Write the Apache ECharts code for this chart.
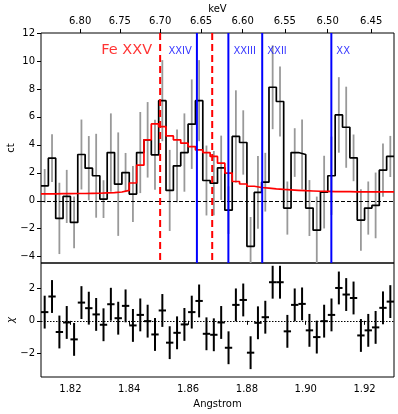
<!DOCTYPE html>
<html>
<head>
<meta charset="utf-8">
<script src="https://cdn.jsdelivr.net/npm/echarts@6.0.0/dist/echarts.min.js"></script>
<style>
  html, body { margin: 0; padding: 0; background: #fff; }
  #main { width: 398px; height: 414px; }
</style>
</head>
<body>
<div id="main"></div>
<script>
// bin centres (Angstrom), 0.0025 wide
var wave = [1.81125, 1.81375, 1.81625, 1.81875, 1.82125, 1.82375, 1.82625, 1.82875,
            1.83125, 1.83375, 1.83625, 1.83875, 1.84125, 1.84375, 1.84625, 1.84875,
            1.85125, 1.85375, 1.85625, 1.85875, 1.86125, 1.86375, 1.86625, 1.86875,
            1.87125, 1.87375, 1.87625, 1.87875, 1.88125, 1.88375, 1.88625, 1.88875,
            1.89125, 1.89375, 1.89625, 1.89875, 1.90125, 1.90375, 1.90625, 1.90875,
            1.91125, 1.91375, 1.91625, 1.91875, 1.92125, 1.92375, 1.92625, 1.92875];
var counts = [1.07, 3.05, -1.26, 0.31, -1.55, 3.31, 2.33, 1.79, 0.12, 3.45, 1.19, 2.02,
              0.48, 3.45, 4.36, 3.29, 7.16, 0.74, 2.5, 3.45, 5.48, 7.16, 1.45, 1.26,
              2.36, -0.67, 4.6, 4.17, -3.26, 0.6, 1.33, 8.12, 7.1, -0.52, 3.45, 3.31,
              -0.52, -2.1, 0.62, 1.79, 6.14, 5.26, 3.07, -1.38, -0.52, -0.33, 2.19, 3.17];
var cntErr = [1.2, 1.7, 2.55, 1.9, 1.85, 2.5, 2.3, 3.0, 1.35, 2.8, 3.7, 1.4,
              2.0, 2.9, 2.7, 2.5, 2.9, 2.9, 2.6, 2.8, 3.2, 2.9, 2.5, 2.3,
              2.3, 1.7, 3.3, 2.3, 2.1, 2.6, 2.1, 3.0, 2.5, 1.9, 1.74, 2.5,
              2.0, 2.4, 2.6, 2.8, 2.7, 2.9, 1.67, 2.2, 1.9, 2.35, 1.9, 1.47];
var model = [0.50, 0.50, 0.51, 0.51, 0.52, 0.52, 0.53, 0.54, 0.56, 0.58, 0.63, 0.74,
             1.27, 2.55, 4.36, 5.5, 5.3, 4.64, 4.36, 4.12, 3.88, 3.64, 3.45, 3.17,
             2.69, 1.98, 1.38, 1.2, 1.04, 0.95, 0.9, 0.85, 0.81, 0.78, 0.75, 0.72,
             0.70, 0.68, 0.67, 0.66, 0.65, 0.65, 0.64, 0.64, 0.64, 0.64, 0.64, 0.64];
var chi = [0.53, 1.48, -0.68, -0.1, -1.13, 1.11, 0.77, 0.39, -0.24, 1.01, 0.16, 0.91,
           -0.28, 0.36, -0.02, -0.83, 0.63, -1.33, -0.73, -0.22, 0.53, 1.21, -0.79, -0.85,
           -0.1, -1.64, 0.97, 1.27, -1.94, -0.12, 0.22, 2.35, 2.35, -0.64, 0.97, 1.03,
           -0.58, -0.99, -0.02, 0.36, 2.0, 1.6, 1.39, -0.89, -0.58, -0.4, 0.79, 1.17];
var chiErr = 1;

var feLines = [1.8505, 1.8682];
var ionLines = [1.8630, 1.8737, 1.8852, 1.9087];
var ionNames = ['XXIV', 'XXIII', 'XXII', 'XX'];

var keVTicks = [6.80, 6.75, 6.70, 6.65, 6.60, 6.55, 6.50, 6.45];
var angTicks = [1.82, 1.84, 1.86, 1.88, 1.90, 1.92];
var ctTicks = [-4, -2, 0, 2, 4, 6, 8, 10, 12];
var chiTicks = [-2, 0, 2];

var HC = 12.3984;
var HALF = 0.00125;
var FONT = 'DejaVu Sans';

// step outline through the bin edges
function stepData(vals) {
    var out = wave.map(function (w, i) { return [w - HALF, vals[i]]; });
    out.push([wave[wave.length - 1] + HALF, vals[vals.length - 1]]);
    return out;
}

var myChart = echarts.init(document.getElementById('main'));

var tickStyle = { show: true, inside: false, length: 4, lineStyle: { color: '#000', width: 1 } };
var labStyle = { color: '#000', fontSize: 10, fontFamily: FONT };
var nameStyle = { color: '#000', fontSize: 10, fontFamily: FONT };

// vertical line markers: [lambda, colour, dashed?]
var vLines = [];
feLines.forEach(function (w) { vLines.push([w, '#ff0000', true]); });
ionLines.forEach(function (w) { vLines.push([w, '#0000ff', false]); });

var labels = [{
    name: 'Fe XXV', value: [feLines[0], 10.75],
    label: { position: 'left', offset: [-3, 0], fontSize: 14.5, color: '#ff0000' }
}];
ionNames.forEach(function (n, i) {
    labels.push({
        name: n, value: [ionLines[i], 10.7],
        label: i === 0 ? { position: 'left', offset: [0, 0] } : { position: 'right', offset: [0, 0] }
    });
});

myChart.setOption({
    animation: false,
    backgroundColor: '#fff',
    textStyle: { fontFamily: FONT },
    grid: [
        { left: 41, top: 33, width: 353, height: 230, outerBoundsMode: 'none', containLabel: false,
          show: true, borderColor: '#000', borderWidth: 1 },
        { left: 41, top: 263, width: 353, height: 114, outerBoundsMode: 'none', containLabel: false,
          show: true, borderColor: '#000', borderWidth: 1 }
    ],
    xAxis: [{
        gridIndex: 0, type: 'value', min: 1.81, max: 1.93, position: 'bottom',
        axisLine: { show: false }, axisTick: { show: false }, axisLabel: { show: false },
        splitLine: { show: false }
    }, {
        gridIndex: 0, type: 'value', min: 1.81, max: 1.93, position: 'top',
        name: 'keV', nameLocation: 'middle', nameGap: 19, nameMoveOverlap: false,
        nameTextStyle: nameStyle,
        axisLine: { show: false },
        axisTick: Object.assign({ customValues: keVTicks.map(function (e) { return HC / e; }) }, tickStyle),
        axisLabel: Object.assign({
            margin: 7,
            customValues: keVTicks.map(function (e) { return HC / e; }),
            formatter: function (v) { return (HC / v).toFixed(2); }
        }, labStyle),
        splitLine: { show: false }
    }, {
        gridIndex: 1, type: 'value', min: 1.81, max: 1.93, position: 'bottom',
        name: 'Angstrom', nameLocation: 'middle', nameGap: 22, nameMoveOverlap: false,
        nameTextStyle: nameStyle,
        axisLine: { show: false },
        axisTick: Object.assign({ customValues: angTicks }, tickStyle),
        axisLabel: Object.assign({
            margin: 7, customValues: angTicks,
            formatter: function (v) { return v.toFixed(2); }
        }, labStyle),
        splitLine: { show: false }
    }],
    yAxis: [{
        gridIndex: 0, type: 'value', min: -4.45, max: 12,
        name: 'ct', nameLocation: 'middle', nameGap: 25, nameMoveOverlap: false,
        nameTextStyle: nameStyle,
        axisLine: { show: false },
        axisTick: Object.assign({ customValues: ctTicks }, tickStyle),
        axisLabel: Object.assign({
            margin: 6, customValues: ctTicks,
            formatter: function (v) { return String(v).replace('-', '\u2212'); }
        }, labStyle),
        splitLine: { show: false }
    }, {
        gridIndex: 1, type: 'value', min: -3.42, max: 3.52,
        name: '\u03c7', nameLocation: 'middle', nameGap: 25, nameMoveOverlap: false,
        nameTextStyle: Object.assign({ fontStyle: 'italic' }, nameStyle),
        axisLine: { show: false },
        axisTick: Object.assign({ customValues: chiTicks }, tickStyle),
        axisLabel: Object.assign({
            margin: 6, customValues: chiTicks,
            formatter: function (v) { return String(v).replace('-', '\u2212'); }
        }, labStyle),
        splitLine: { show: false }
    }],
    series: [{
        // gray error bars
        type: 'custom', xAxisIndex: 0, yAxisIndex: 0, clip: true, silent: true,
        data: wave.map(function (w, i) { return [w, counts[i] - cntErr[i], counts[i] + cntErr[i]]; }),
        renderItem: function (params, api) {
            var a = api.coord([api.value(0), api.value(1)]);
            var b = api.coord([api.value(0), api.value(2)]);
            return {
                type: 'line',
                shape: { x1: a[0], y1: a[1], x2: b[0], y2: b[1] },
                style: { stroke: '#999999', lineWidth: 1.8 }
            };
        },
        z: 1
    }, {
        type: 'line', xAxisIndex: 0, yAxisIndex: 0, step: 'end', showSymbol: false, silent: true,
        data: stepData(counts),
        lineStyle: { color: '#000', width: 1.7 },
        markLine: {
            silent: true, symbol: 'none', label: { show: false },
            data: [{ yAxis: 0, lineStyle: { color: '#000', width: 1, type: [4, 2] } }]
        },
        z: 3
    }, {
        type: 'line', xAxisIndex: 0, yAxisIndex: 0, step: 'end', showSymbol: false, silent: true,
        data: stepData(model),
        lineStyle: { color: '#ff0000', width: 1.7 },
        z: 4
    }, {
        // vertical line markers, full panel height
        type: 'custom', xAxisIndex: 0, yAxisIndex: 0, clip: true, silent: true,
        data: vLines,
        renderItem: function (params, api) {
            var item = vLines[params.dataIndex];
            var x = api.coord([item[0], 0])[0];
            var cs = params.coordSys;
            return {
                type: 'line',
                shape: { x1: x, y1: cs.y, x2: x, y2: cs.y + cs.height },
                style: { stroke: item[1], lineWidth: 2, lineDash: item[2] ? [7, 4] : null }
            };
        },
        z: 5
    }, {
        type: 'scatter', xAxisIndex: 0, yAxisIndex: 0, symbolSize: 0, silent: true,
        data: labels,
        label: {
            show: true, formatter: '{b}', color: '#0000ff', fontSize: 10, fontFamily: FONT
        },
        z: 6
    }, {
        // residuals
        type: 'custom', xAxisIndex: 2, yAxisIndex: 1, clip: true, silent: true,
        data: wave.map(function (w, i) { return [w, chi[i]]; }),
        renderItem: function (params, api) {
            var x = api.value(0), y = api.value(1);
            var t = api.coord([x, y + chiErr]);
            var b = api.coord([x, y - chiErr]);
            var l = api.coord([x - HALF, y]);
            var r = api.coord([x + HALF, y]);
            var st = { stroke: '#000', lineWidth: 2 };
            return {
                type: 'group',
                children: [
                    { type: 'line', shape: { x1: t[0], y1: t[1], x2: b[0], y2: b[1] }, style: st },
                    { type: 'line', shape: { x1: l[0], y1: l[1], x2: r[0], y2: r[1] }, style: st }
                ]
            };
        },
        markLine: {
            silent: true, symbol: 'none', label: { show: false },
            data: [{ yAxis: 0, lineStyle: { color: '#000', width: 1, type: [1.5, 1.5] } }]
        },
        z: 3
    }]
});
</script>
</body>
</html>
